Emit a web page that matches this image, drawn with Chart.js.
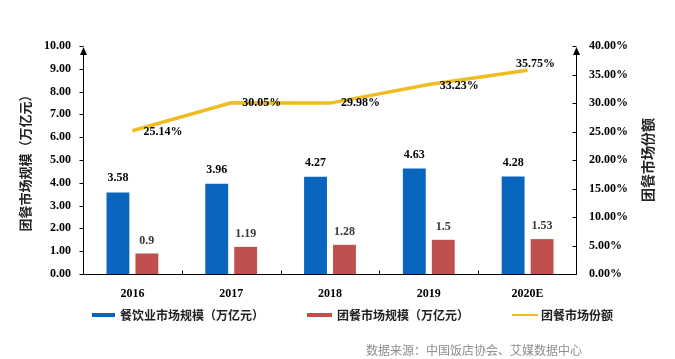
<!DOCTYPE html>
<html>
<head>
<meta charset="utf-8">
<script src="https://cdn.jsdelivr.net/npm/chart.js@4.4.0/dist/chart.umd.min.js"></script>
<style>
  body { margin: 0; background: #fff; }
  #wrap { position: relative; width: 675px; height: 359px; }
  .lg { position: absolute; top: 306px; height: 18px; line-height: 18px; font: bold 12px "Noto Sans CJK SC", sans-serif; color: #222; white-space: nowrap; }
  .sw { position: absolute; top: 7px; height: 4px; }
  .src { position: absolute; left: 366px; top: 341px; font: 12px "Noto Sans CJK SC", sans-serif; color: #8e8e8e; white-space: nowrap; }
</style>
</head>
<body>
<div id="wrap">
  <canvas id="myChart" width="675" height="359"></canvas>
  <div class="lg" style="left:92px"><span class="sw" style="left:0;width:23px;background:#0866BE"></span><span style="margin-left:28px">餐饮业市场规模（万亿元）</span></div>
  <div class="lg" style="left:307px"><span class="sw" style="left:0;width:25px;background:#C0504D"></span><span style="margin-left:30px">团餐市场规模（万亿元）</span></div>
  <div class="lg" style="left:512px"><span class="sw" style="left:0;width:26px;height:2px;top:8px;background:#EFBD22"></span><span style="margin-left:29px">团餐市场份额</span></div>
  <div class="src">数据来源：中国饭店协会、艾媒数据中心</div>
</div>
<script>
// データ
var years = ['2016', '2017', '2018', '2019', '2020E'];
var cateringSize = [3.58, 3.96, 4.27, 4.63, 4.28];   // 餐饮业市场规模（万亿元）
var groupMealSize = [0.9, 1.19, 1.28, 1.5, 1.53];    // 团餐市场规模（万亿元）
var groupMealShare = [25.14, 30.05, 29.98, 33.23, 35.75]; // 团餐市场份额 (%)

var serif = '"Liberation Serif", "Times New Roman", serif';
var cjk = '"Noto Sans CJK SC", sans-serif';

// 折れ線ラベルの位置 (点からのずれ)
var shareLabelPos = [[11, 1, 'left'], [11, 0, 'left'], [11, 0, 'left'], [11, 1.5, 'left'], [8, -6, 'center']];

// 軸・矢印・目盛・ラベルを描く
var decoPlugin = {
  id: 'deco',
  afterDraw: function (chart) {
    var c = chart.ctx;
    var a = chart.chartArea;
    var x = chart.scales.x, y = chart.scales.y, y1 = chart.scales.y1;
    c.save();
    c.strokeStyle = '#000';
    c.fillStyle = '#000';
    c.lineWidth = 1;
    var L = Math.round(a.left) + 0.5, R = Math.round(a.right) - 0.5, B = Math.round(a.bottom) + 0.5;
    c.beginPath();
    c.moveTo(L, a.top + 2); c.lineTo(L, B);
    c.lineTo(R, B);
    c.lineTo(R, a.top + 2);
    c.stroke();
    // 矢印
    [L, R].forEach(function (ax) {
      c.beginPath();
      c.moveTo(ax, a.top + 1);
      c.lineTo(ax - 3.5, a.top + 9);
      c.lineTo(ax + 3.5, a.top + 9);
      c.closePath();
      c.fill();
    });
    // 目盛
    c.beginPath();
    y.ticks.forEach(function (t) {
      var py = Math.round(y.getPixelForValue(t.value)) + 0.5;
      c.moveTo(L - 4, py); c.lineTo(L, py);
    });
    y1.ticks.forEach(function (t) {
      var py = Math.round(y1.getPixelForValue(t.value)) + 0.5;
      c.moveTo(R - 4, py); c.lineTo(R, py);
    });
    for (var i = 1; i < years.length; i++) {
      var px = Math.round((x.getPixelForValue(i - 1) + x.getPixelForValue(i)) / 2) + 0.5;
      c.moveTo(px, B - 4); c.lineTo(px, B);
    }
    c.stroke();

    // 棒の値
    c.textBaseline = 'middle';
    c.textAlign = 'center';
    c.font = 'bold 12px ' + serif;
    chart.getDatasetMeta(0).data.forEach(function (el, i) {
      c.fillText(String(cateringSize[i]), el.x, el.y - 14);
    });
    c.fillStyle = '#383838';
    chart.getDatasetMeta(1).data.forEach(function (el, i) {
      c.fillText(String(groupMealSize[i]), el.x, el.y - 13);
    });
    c.fillStyle = '#000';
    chart.getDatasetMeta(2).data.forEach(function (el, i) {
      var p = shareLabelPos[i];
      c.textAlign = p[2];
      c.fillText(groupMealShare[i].toFixed(2) + '%', el.x + p[0], el.y + p[1]);
    });

    // 軸タイトル
    c.font = 'bold 13px ' + cjk;
    c.textAlign = 'center';
    c.fillStyle = '#222';
    var my = (a.top + a.bottom) / 2;
    c.translate(25, my);
    c.rotate(-Math.PI / 2);
    c.fillText('团餐市场规模（万亿元）', 0, 0);
    c.setTransform(1, 0, 0, 1, 0, 0);
    c.font = 'bold 14px ' + cjk;
    c.translate(648, my);
    c.rotate(-Math.PI / 2);
    c.fillText('团餐市场份额', 0, 0);
    c.restore();
  }
};

var ctx = document.getElementById('myChart');
var myChart = new Chart(ctx, {
  type: 'bar',
  data: {
    labels: years,
    datasets: [{
      label: '餐饮业市场规模（万亿元）',
      data: cateringSize,
      backgroundColor: '#0866BE',
      yAxisID: 'y',
      order: 2,
      categoryPercentage: 0.586,
      barPercentage: 0.79,
    }, {
      label: '团餐市场规模（万亿元）',
      data: groupMealSize,
      backgroundColor: '#C0504D',
      yAxisID: 'y',
      order: 2,
      categoryPercentage: 0.586,
      barPercentage: 0.79,
    }, {
      type: 'line',
      label: '团餐市场份额',
      data: groupMealShare,
      borderColor: '#EFBD22',
      borderWidth: 3.5,
      pointRadius: 0,
      tension: 0,
      fill: false,
      yAxisID: 'y1',
      order: 1,
    }],
  },
  options: {
    responsive: false,
    animation: false,
    layout: { padding: { top: 46, left: 0, right: 0, bottom: 0 } },
    plugins: {
      legend: { display: false },
      tooltip: { enabled: false },
    },
    scales: {
      x: {
        offset: true,
        grid: { display: false, drawTicks: false },
        border: { display: false },
        ticks: { color: '#000', font: { family: serif, size: 12, weight: 'bold' }, padding: 13, maxRotation: 0 },
        afterFit: function (s) { s.height = 85; },
      },
      y: {
        position: 'left',
        min: 0,
        max: 10,
        grid: { display: false, drawTicks: false },
        border: { display: false },
        ticks: {
          stepSize: 1, padding: 12, color: '#000',
          font: { family: serif, size: 12, weight: 'bold' },
          callback: function (v) { return v.toFixed(2); },
        },
        afterFit: function (s) { s.width = 83; },
      },
      y1: {
        position: 'right',
        min: 0,
        max: 40,
        grid: { display: false, drawTicks: false },
        border: { display: false },
        ticks: {
          stepSize: 5, padding: 12, color: '#000',
          font: { family: serif, size: 12, weight: 'bold' },
          callback: function (v) { return v.toFixed(2) + '%'; },
        },
        afterFit: function (s) { s.width = 98; },
      },
    },
  },
  plugins: [decoPlugin],
});
</script>
</body>
</html>
